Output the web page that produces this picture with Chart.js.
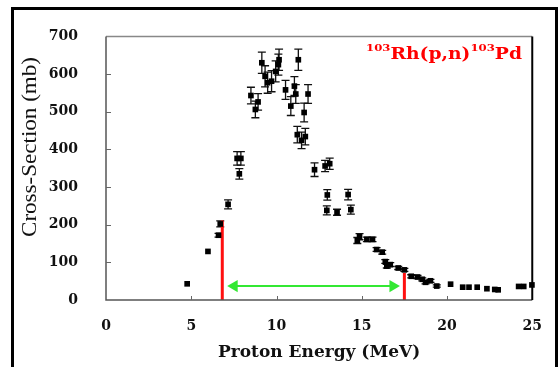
<!DOCTYPE html>
<html>
<head>
<meta charset="utf-8">
<script src="https://cdn.jsdelivr.net/npm/chart.js@4.4.1/dist/chart.umd.min.js"></script>
<style>
  html, body { margin: 0; padding: 0; background: #fff; }
  #wrap { position: relative; width: 560px; height: 367px; overflow: hidden; }
  #frame { position: absolute; left: 11px; top: 7px; width: 547px; height: 420px; border: 3px solid #000; box-sizing: border-box; }
  canvas { position: absolute; left: 0; top: 0; }
</style>
</head>
<body>
<div id="wrap">
  <div id="frame"></div>
  <canvas id="c" width="560" height="367"></canvas>
</div>
<script>
// Measured points: proton energy (MeV), cross-section (mb), error (mb)
const energy = [4.76, 5.98, 6.60, 6.70, 7.16, 7.69, 7.91, 7.82, 8.50, 8.76, 8.92, 9.14, 9.33, 9.48, 9.71, 9.95, 10.11, 10.15,
  10.53, 10.84, 11.05, 11.13, 11.28, 11.22, 11.47, 11.69, 11.62, 11.85, 12.23, 12.85, 13.12, 12.98, 14.20, 12.95, 13.55, 14.36,
  14.74, 14.87, 15.30, 15.63, 15.87, 16.20, 16.38, 16.47, 16.67, 17.14, 17.50, 17.90, 18.27, 18.55, 18.74, 19.03, 19.40,
  20.21, 20.92, 21.29, 21.77, 22.34, 22.80, 23.00, 24.20, 24.50, 24.98];
const crossSection = [43, 129, 172, 202, 254, 376, 376, 335, 543, 506, 526, 630, 594, 577, 581, 607, 625, 638,
  558, 515, 568, 547, 638, 439, 424, 434, 498, 547, 346, 356, 362, 279, 280, 238, 233, 240,
  158, 168, 161, 161, 134, 127, 102, 90, 94, 85, 80, 63, 61, 55, 47, 51, 37,
  42, 34, 34, 34, 30, 28, 27, 36, 36, 40];
const errors = [0, 0, 5, 8, 12, 18, 18, 14, 22, 22, 22, 28, 28, 28, 28, 28, 28, 28,
  25, 25, 25, 25, 28, 22, 22, 22, 25, 25, 18, 15, 15, 14, 14, 12, 8, 12,
  8, 8, 6, 6, 5, 5, 5, 5, 5, 4, 4, 4, 4, 4, 4, 4, 3,
  0, 0, 0, 0, 0, 0, 0, 0, 0, 0];
// Optimal energy window markers
const windowLow = { energy: 6.82, cs: 211 };
const windowHigh = { energy: 17.5, cs: 72 };
const arrowEnergy = [7.52, 16.83];
const arrowCS = 37;
const xTicks = [0, 5, 10, 15, 20, 25];
const yTicks = [0, 100, 200, 300, 400, 500, 600, 700];
const yTitle = 'Cross-Section (mb)';

const points = energy.map((e, i) => ({ x: e, y: crossSection[i], err: errors[i] }));

const errorBars = {
  id: 'errorBars',
  beforeDatasetsDraw(chart) {
    const ctx = chart.ctx, xs = chart.scales.x, ys = chart.scales.y;
    ctx.save();
    ctx.strokeStyle = '#111';
    ctx.lineWidth = 1.3;
    points.forEach(p => {
      if (!p.err) return;
      const px = xs.getPixelForValue(p.x);
      const y1 = ys.getPixelForValue(p.y + p.err);
      const y2 = ys.getPixelForValue(p.y - p.err);
      ctx.beginPath();
      ctx.moveTo(px, y1); ctx.lineTo(px, y2);
      ctx.moveTo(px - 4, y1); ctx.lineTo(px + 4, y1);
      ctx.moveTo(px - 4, y2); ctx.lineTo(px + 4, y2);
      ctx.stroke();
    });
    ctx.restore();
  },
  afterDraw(chart) {
    const ctx = chart.ctx, a = chart.chartArea, xs = chart.scales.x, ys = chart.scales.y;
    ctx.save();
    ctx.lineWidth = 1.5;
    ctx.strokeStyle = '#888';
    ctx.beginPath(); ctx.moveTo(a.left, a.top); ctx.lineTo(a.right, a.top); ctx.stroke();
    ctx.strokeStyle = '#555';
    ctx.beginPath(); ctx.moveTo(a.left, a.top); ctx.lineTo(a.left, a.bottom); ctx.lineTo(a.right, a.bottom); ctx.stroke();
    ctx.strokeStyle = '#000'; ctx.lineWidth = 2;
    ctx.beginPath(); ctx.moveTo(a.right, a.top); ctx.lineTo(a.right, a.bottom); ctx.stroke();
    ctx.strokeStyle = '#666'; ctx.lineWidth = 1;
    yTicks.slice(1, -1).forEach(v => {
      const py = Math.round(ys.getPixelForValue(v)) + 0.5;
      ctx.beginPath(); ctx.moveTo(a.left, py); ctx.lineTo(a.left + 5, py); ctx.stroke();
    });
    xTicks.slice(1, -1).forEach(v => {
      const px = Math.round(xs.getPixelForValue(v)) + 0.5;
      ctx.beginPath(); ctx.moveTo(px, a.bottom); ctx.lineTo(px, a.bottom - 4); ctx.stroke();
    });
    // reaction label (stretched horizontally like the reference)
    ctx.save();
    ctx.fillStyle = '#ff0000';
    ctx.textBaseline = 'alphabetic';
    const parts = [['103', 10, -8], ['Rh(p,n)', 16, 0], ['103', 10, -8], ['Pd', 16, 0]];
    let w = 0;
    parts.forEach(([t, s]) => { ctx.font = 'bold ' + s + 'px "DejaVu Serif"'; w += ctx.measureText(t).width; });
    ctx.translate(366, 59);
    ctx.scale(156 / w, 1);
    let x = 0;
    parts.forEach(([t, s, dy]) => {
      ctx.font = 'bold ' + s + 'px "DejaVu Serif"';
      ctx.fillText(t, x, dy);
      x += ctx.measureText(t).width;
    });
    ctx.restore();
    // y-axis title
    ctx.save();
    ctx.fillStyle = '#111';
    ctx.font = '20px "Liberation Serif"';
    ctx.textAlign = 'center';
    ctx.textBaseline = 'middle';
    const tw = ctx.measureText(yTitle).width;
    ctx.translate(31, 147);
    ctx.rotate(-Math.PI / 2);
    ctx.scale(180 / tw, 1);
    ctx.fillText(yTitle, 0, 0);
    ctx.restore();
    ctx.restore();
  }
};

new Chart(document.getElementById('c'), {
  type: 'scatter',
  data: {
    datasets: [
      {
        data: [{ x: windowLow.energy, y: 0 }, { x: windowLow.energy, y: windowLow.cs }],
        showLine: true, borderColor: '#ff1010', borderWidth: 3, pointRadius: 0, order: 2
      },
      {
        data: [{ x: windowHigh.energy, y: 0 }, { x: windowHigh.energy, y: windowHigh.cs }],
        showLine: true, borderColor: '#ff1010', borderWidth: 3, pointRadius: 0, order: 2
      },
      {
        data: arrowEnergy.map(e => ({ x: e, y: arrowCS })),
        showLine: true, borderColor: '#33e833', backgroundColor: '#33e833', borderWidth: 2,
        pointStyle: 'triangle', pointRadius: 7, pointRotation: [-90, 90], pointBorderWidth: 0, order: 2
      },
      {
        data: points, clip: false,
        pointStyle: 'rect', pointRadius: 4, backgroundColor: '#000', borderColor: '#000', pointBorderWidth: 0, order: 1
      }
    ]
  },
  options: {
    responsive: false,
    animation: false,
    events: [],
    layout: { padding: { left: 21, top: 25, right: 13, bottom: 0 } },
    plugins: { legend: { display: false }, tooltip: { enabled: false } },
    scales: {
      x: {
        type: 'linear', min: 0, max: 25,
        afterBuildTicks(s) { s.ticks = xTicks.map(v => ({ value: v })); },
        afterFit(s) { s.height = 67; },
        grid: { display: false, drawTicks: false },
        border: { display: false },
        ticks: { color: '#111', padding: 18, font: { family: 'DejaVu Serif', size: 14, weight: 'bold' }, maxRotation: 0 },
        title: { display: true, text: 'Proton Energy (MeV)', color: '#111', padding: { top: 8 }, font: { family: 'DejaVu Serif', size: 17, weight: 'bold' } }
      },
      y: {
        type: 'linear', min: 0, max: 700,
        afterBuildTicks(s) { s.ticks = yTicks.map(v => ({ value: v })); },
        afterFit(s) { s.width = 85; },
        grid: { display: false, drawTicks: false },
        border: { display: false },
        ticks: { color: '#111', padding: 28, font: { family: 'DejaVu Serif', size: 14, weight: 'bold' } },
        title: { display: false }
      }
    }
  },
  plugins: [errorBars]
});
</script>
</body>
</html>
